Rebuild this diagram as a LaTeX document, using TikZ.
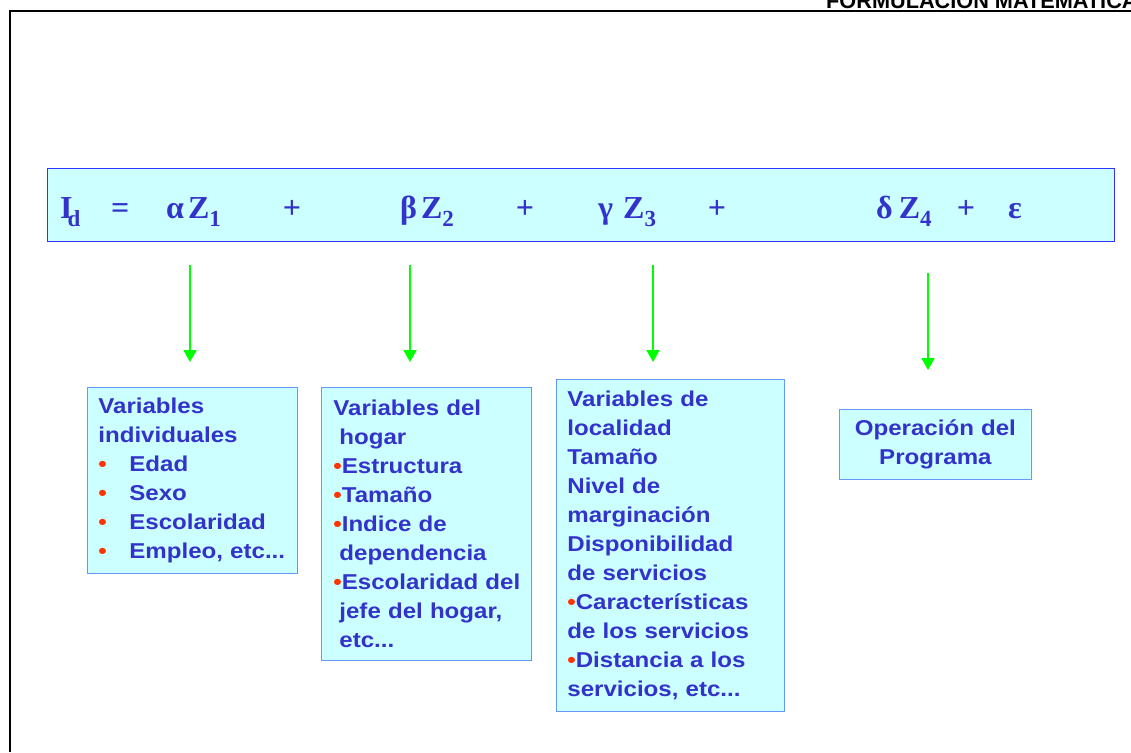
\documentclass[tikz,border=0pt]{standalone}
\usepackage{fontspec}
\setmainfont{Liberation Serif}
\newfontfamily\boxfont[FakeStretch=1.12]{Liberation Sans}
\newfontfamily\titlefont{Liberation Sans}
\usepackage{xcolor}
\usetikzlibrary{positioning, calc, arrows.meta}

\definecolor{boxfill}{HTML}{CCFFFF}
\definecolor{boxtext}{HTML}{3333CC}
\definecolor{eqline}{HTML}{3333FF}
\definecolor{boxline}{HTML}{6699FF}
\definecolor{arrowgreen}{HTML}{00FF00}
\definecolor{dotred}{HTML}{FF3300}

\newcommand{\reddot}{{\color{dotred}\textbullet}}
\newcommand{\zsub}[1]{\raisebox{-8pt}{\fontsize{23}{23}\selectfont #1}}

\begin{document}
\begin{tikzpicture}[x=1pt, y=-1pt,
    eqbox/.style={draw=eqline, fill=boxfill, line width=0.8pt, inner sep=0pt},
    eqterm/.style={inner sep=0pt, text=boxtext, font=\fontsize{32}{32}\selectfont\bfseries},
    varbox/.style={draw=boxline, fill=boxfill, line width=0.8pt, inner xsep=11pt,
        inner ysep=0pt, align=left, text=boxtext,
        font=\boxfont\fontsize{21.5}{29}\selectfont\bfseries},
    garrow/.style={draw=arrowgreen, line width=2pt,
        -{Triangle[width=13pt, length=12pt]}},
    titletext/.style={inner sep=0pt, font=\titlefont\fontsize{21.7}{22}\selectfont\bfseries}]

    \useasboundingbox (0,0) rectangle (1131,752);
    \clip (0,0) rectangle (1131,752);

    % --- Title and frame ---
    \node[titletext, anchor=base west] (title) at (826,8.5) {FORMULACION MATEMATICA};
    \draw[line width=2pt] (10,752) -- (10,11) -- (1131,11);

    % --- Equation bar ---
    \node[eqbox, minimum width=1067pt, minimum height=73pt, anchor=north west] (eq) at (47,168) {};

    \node[eqterm, anchor=base west] (id) at (60,218) {I\kern-5pt\zsub{d}};
    \node[eqterm, anchor=base west] (eqsign) at (111,218) {=};
    \node[eqterm, anchor=base west] (t1) at (166,218) {α\hspace{4pt}Z\zsub{1}};
    \node[eqterm, anchor=base] (p1) at (292,218) {+};
    \node[eqterm, anchor=base west] (t2) at (400,218) {β\hspace{4pt}Z\zsub{2}};
    \node[eqterm, anchor=base] (p2) at (525,218) {+};
    \node[eqterm, anchor=base west] (t3) at (598,218) {γ\hspace{10pt}Z\zsub{3}};
    \node[eqterm, anchor=base] (p3) at (717,218) {+};
    \node[eqterm, anchor=base west] (t4) at (876,218) {δ\hspace{6pt}Z\zsub{4}};
    \node[eqterm, anchor=base] (p4) at (966,218) {+};
    \node[eqterm, anchor=base] (eps) at (1015,218) {ε};

    % --- Arrows down to the variable boxes ---
    \foreach \i/\x/\ya/\yb in {1/190/265/362, 2/410/265/362, 3/653/265/362, 4/928/273/370} {
        \coordinate (top\i) at (\x,\ya);
        \coordinate (bot\i) at (\x,\yb);
        \draw[garrow] (top\i) -- (bot\i);
    }

    % --- Variable boxes ---
    \node[varbox, text width=188pt, minimum height=186pt, anchor=north west] (indiv) at (87,387)
        {Variables\\ individuales\\
         \makebox[31pt][l]{\reddot}Edad\\
         \makebox[31pt][l]{\reddot}Sexo\\
         \makebox[31pt][l]{\reddot}Escolaridad\\
         \makebox[31pt][l]{\reddot}Empleo, etc...};

    \node[varbox, inner xsep=12pt, text width=186pt, minimum height=273pt, anchor=north west] (hogar) at (321,387)
        {Variables del\\ \hspace*{6pt}hogar\\
         \reddot Estructura\\
         \reddot Tamaño\\
         \reddot Indice de\\ \hspace*{6pt}dependencia\\
         \mbox{\reddot Escolaridad del}\\ \hspace*{6pt}jefe del hogar,\\ \hspace*{6pt}etc...};

    \node[varbox, text width=206pt, minimum height=332pt, anchor=north west] (local) at (556,379)
        {Variables de\\ localidad\\ Tamaño\\ Nivel de\\ marginación\\
         Disponibilidad\\ de servicios\\
         \reddot Características\\ de los servicios\\
         \reddot Distancia a los\\ servicios, etc...};

    \node[varbox, align=center, text width=170pt, minimum height=70pt, anchor=north west] (oper) at (839,409)
        {Operación del\\ Programa};

\end{tikzpicture}
\end{document}
